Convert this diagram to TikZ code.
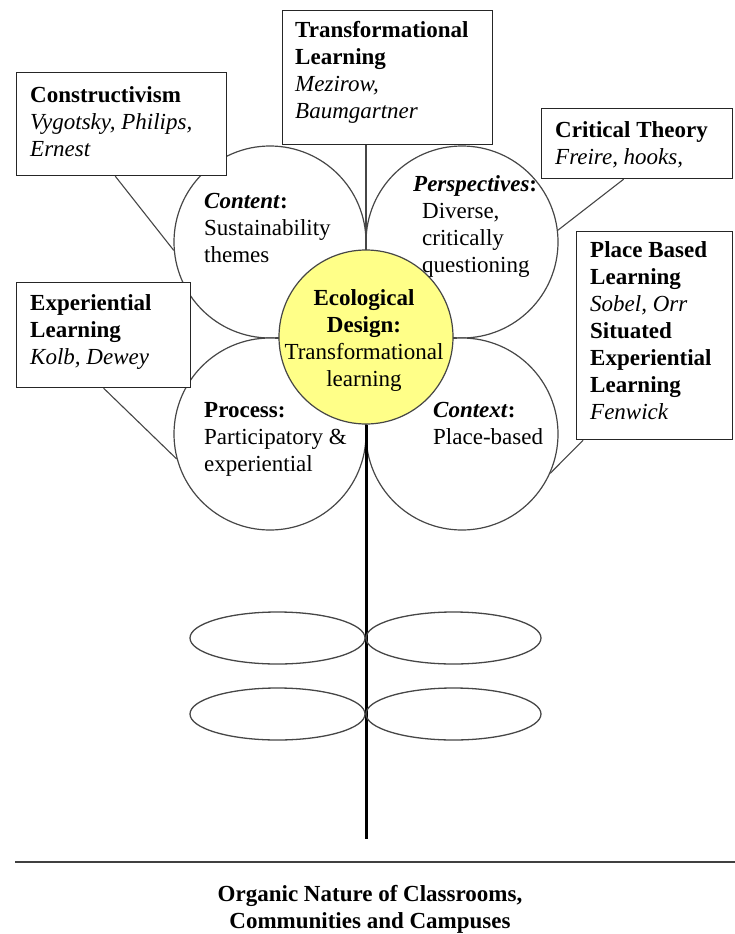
\documentclass[tikz,border=0pt]{standalone}
\usepackage{fontspec}
\setmainfont{Liberation Serif}
\usetikzlibrary{calc}
\definecolor{petalyellow}{RGB}{255,255,136}
\definecolor{linegray}{RGB}{70,70,70}
\newcommand{\txtsize}{\fontsize{23}{27}\selectfont}
\begin{document}
\begin{tikzpicture}[x=1pt,y=-1pt,
  petal/.style={circle,draw=linegray,line width=1.2pt,fill=white,minimum size=192pt,inner sep=0pt},
  core/.style={circle,draw=linegray,line width=1.2pt,fill=petalyellow,minimum size=174pt,inner sep=0pt},
  refbox/.style={rectangle,draw=black!85,line width=1.2pt,fill=white,inner sep=0pt,anchor=north west},
  txt/.style={anchor=north west,inner sep=0pt,align=left,font=\txtsize},
  link/.style={draw=linegray,line width=1.1pt},
  stemline/.style={draw=black,line width=3pt},
  leaf/.style={draw=linegray,line width=1.3pt},
  rulestyle/.style={draw=black!75,line width=1.5pt}]
\useasboundingbox (0,0) rectangle (735,934);
% petals
\node[petal] (content) at (270,242) {};
\node[petal] (persp) at (462,242) {};
\node[petal] (process) at (270,434) {};
\node[petal] (context) at (462,434) {};
% centre
\node[core] (yellow) at (366,337) {};
% boxes
\node[refbox,minimum width=210pt,minimum height=103pt] (cons) at (16,72) {};
\node[refbox,minimum width=210pt,minimum height=134pt] (trans) at (282,10) {};
\node[refbox,minimum width=191pt,minimum height=70pt] (crit) at (541,108) {};
\node[refbox,minimum width=174pt,minimum height=105pt] (exp) at (16,282) {};
\node[refbox,minimum width=156pt,minimum height=208pt] (place) at (576,231) {};
% connectors
\draw[link] (yellow.north |- trans.south) -- (yellow.north);
\draw[link] ($(cons.south west)!0.47!(cons.south east)$) -- (content.185);
\draw[link] ($(crit.south west)!0.43!(crit.south east)$) -- (persp.7);
\draw[link] (exp.south) -- (process.195);
\draw[link] ($(place.south west)!0.045!(place.south east)$) -- (context.336);
% stem and leaves
\coordinate (stemend) at (366,839);
\draw[stemline] (yellow.south) -- (stemend);
\draw[leaf] (277.5,638) ellipse [x radius=87.5, y radius=26];
\draw[leaf] (453.5,638) ellipse [x radius=87.5, y radius=26];
\draw[leaf] (277.5,714) ellipse [x radius=87.5, y radius=26];
\draw[leaf] (453.5,714) ellipse [x radius=87.5, y radius=26];
% rule
\coordinate (ruleL) at (15,862);
\coordinate (ruleR) at (735,862);
\draw[rulestyle] (ruleL) -- (ruleR);
% texts
\node[txt] (tcons) at (30,83.2) {\strut\textbf{Constructivism}\\\textit{Vygotsky, Philips,}\\\textit{Ernest}};
\node[txt] (ttrans) at (295,18.2) {\strut\textbf{Transformational}\\\textbf{Learning}\\\textit{Mezirow,}\\\textit{Baumgartner}};
\node[txt] (tcrit) at (555,118) {\strut\textbf{Critical Theory}\\\textit{Freire, hooks,}};
\node[txt] (texp) at (30,291.2) {\strut\textbf{Experiential}\\\textbf{Learning}\\\textit{Kolb, Dewey}};
\node[txt] (tplace) at (590,238.2) {\strut\textbf{Place Based}\\\textbf{Learning}\\\textit{Sobel, Orr}\\\textbf{Situated}\\\textbf{Experiential}\\\textbf{Learning}\\\textit{Fenwick}};
\node[txt] (tcontent) at (204,189) {\strut\textbf{\textit{Content}:}\\Sustainability\\themes};
\node[txt] (tpersp) at (422,172.5) {\hspace*{-9pt}\strut\textbf{\textit{Perspectives}:}\\Diverse,\\critically\\questioning};
\node[txt,anchor=north,align=center] (teco) at (364,286.2) {\strut\textbf{Ecological}\\\textbf{Design:}\\Transformational\\learning};
\node[txt] (tprocess) at (204,398) {\strut\textbf{Process:}\\Participatory \&\\experiential};
\node[txt] (tcontext) at (433,398) {\strut\textbf{\textit{Context}:}\\Place-based};
\node[txt,anchor=north,align=center,font=\txtsize\bfseries] (title) at (370,882.5) {\strut Organic Nature of Classrooms,\\Communities and Campuses};
\end{tikzpicture}
\end{document}
